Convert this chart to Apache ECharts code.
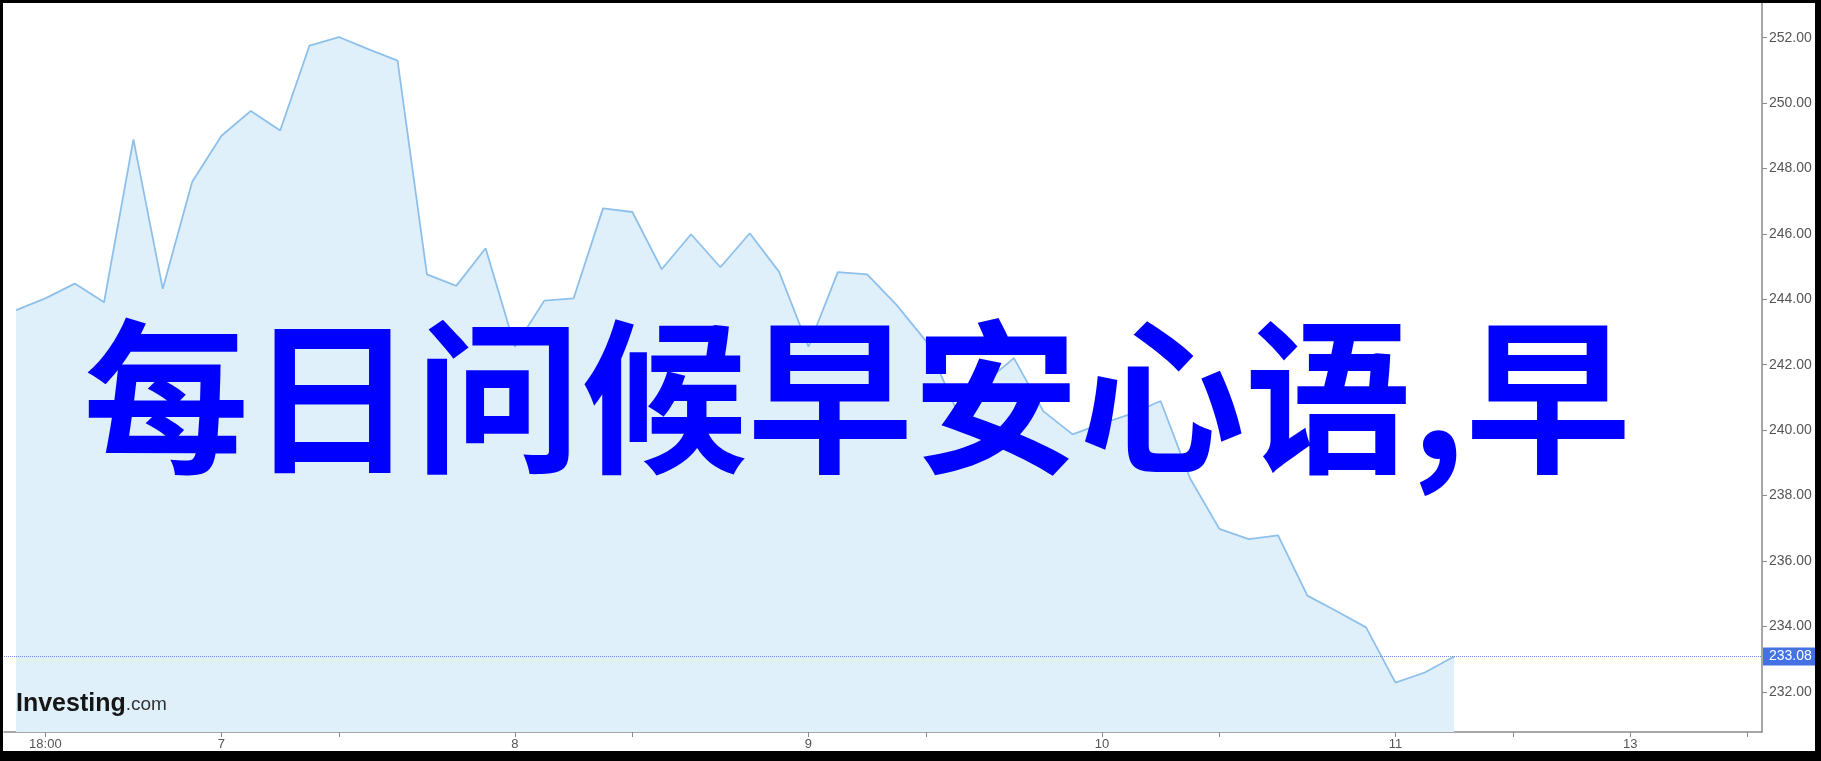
<!DOCTYPE html>
<html>
<head>
<meta charset="utf-8">
<script src="https://cdn.jsdelivr.net/npm/echarts@6/dist/echarts.min.js"></script>
<style>
  html, body { margin: 0; padding: 0; background: #000; width: 1821px; height: 761px; overflow: hidden; }
  #c { position: absolute; left: 3px; top: 3px; width: 1812px; height: 748px; background: #fff; }
</style>
</head>
<body>
<div id="c"></div>
<script>
// ---- data ----
const prices = [
  243.67, 244.03, 244.48, 243.91, 248.89, 244.32, 247.59, 249.00, 249.76, 249.16,
  251.76, 252.02, 251.65, 251.30, 244.76, 244.41, 245.56, 242.55, 243.96, 244.03,
  246.78, 246.67, 244.92, 245.99, 244.98, 246.02, 244.84, 242.55, 244.83, 244.76,
  243.83, 242.73, 240.70, 241.45, 242.20, 240.58, 239.87, 240.20, 240.50, 240.89,
  238.53, 236.98, 236.67, 236.78, 234.94, 234.46, 233.97, 232.28, 232.59, 233.08
];
const xLabelPositions = [1, 7, 17, 27, 37, 47, 55];
const xLabelTexts = ['18:00', '7', '8', '9', '10', '11', '13'];
const xTickPositions = [1, 7, 11, 17, 21, 27, 31, 37, 41, 47, 51, 55, 59];
const yTickValues = [232, 234, 236, 238, 240, 242, 244, 246, 248, 250, 252];
const lastPrice = prices[prices.length - 1];
const titleText = '每日问候早安心语,早';

const chart = echarts.init(document.getElementById('c'));
const labelFont = "'Liberation Sans', Arial, sans-serif";

chart.setOption({
  animation: false,
  backgroundColor: '#fff',
  grid: { left: 1, right: 53, top: 0, bottom: 19, containLabel: false, outerBoundsMode: 'none' },
  xAxis: {
    type: 'value',
    position: 'bottom',
    min: -0.41,
    max: 59.49,
    splitLine: { show: false },
    axisLine: { show: true, onZero: false, lineStyle: { color: '#8a8a8a', width: 1.5 } },
    axisTick: { show: true, length: 5, inside: false, customValues: xTickPositions, lineStyle: { color: '#8a8a8a' } },
    axisLabel: {
      customValues: xLabelPositions,
      margin: 6,
      color: '#555',
      fontSize: 13,
      fontFamily: labelFont,
      formatter: function (v) {
        const i = xLabelPositions.indexOf(Math.round(v));
        return i >= 0 ? xLabelTexts[i] : '';
      }
    }
  },
  yAxis: {
    type: 'value',
    position: 'right',
    min: 230.77,
    max: 253.06,
    splitLine: { show: false },
    axisLine: { show: true, onZero: false, lineStyle: { color: '#8a8a8a', width: 1.5 } },
    axisTick: { show: true, length: 5, inside: false, customValues: yTickValues, lineStyle: { color: '#8a8a8a' } },
    axisLabel: {
      customValues: yTickValues,
      margin: 7,
      color: '#555',
      fontSize: 14,
      fontFamily: labelFont,
      formatter: function (v) { return Number(v).toFixed(2); }
    }
  },
  series: [{
    type: 'line',
    data: prices.map(function (v, i) { return [i, v]; }),
    symbol: 'none',
    lineStyle: { color: '#8ec0ec', width: 1.8 },
    areaStyle: { color: '#e0f0fa', opacity: 1 },
    z: 2,
    markLine: {
      silent: true,
      symbol: ['none', 'none'],
      lineStyle: { color: '#6f8fe6', type: 'dotted', width: 1 },
      label: {
        show: true,
        position: 'end',
        distance: 1,
        formatter: lastPrice.toFixed(2),
        color: '#fff',
        fontSize: 14,
        fontFamily: labelFont,
        backgroundColor: '#4472e4',
        padding: [2, 6, 1, 6],
        lineHeight: 15
      },
      data: [{ yAxis: lastPrice }]
    }
  }],
  graphic: [
    {
      type: 'text',
      left: 13,
      top: 689,
      z: 50,
      style: {
        text: '{a|Investing}{b|.com}',
        rich: {
          a: { fontSize: 25, fontWeight: 'bold', fontFamily: labelFont, fill: '#161616' },
          b: { fontSize: 19, fontFamily: labelFont, fill: '#333' }
        }
      }
    },
    {
      type: 'text',
      x: 854,
      y: 394,
      z: 100,
      style: {
        text: titleText,
        fill: '#0000ff',
        fontSize: 166,
        fontWeight: 'bold',
        fontFamily: "'Noto Sans CJK SC', sans-serif",
        textAlign: 'center',
        textVerticalAlign: 'middle'
      }
    }
  ]
});
</script>
</body>
</html>
